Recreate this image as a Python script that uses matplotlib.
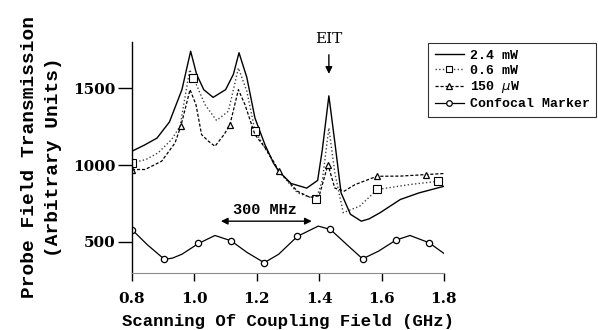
import numpy as np
import matplotlib
matplotlib.use("Agg")
import matplotlib.pyplot as plt
from matplotlib.lines import Line2D

# transmission curves (GHz, arbitrary units)
f_24mw = [0.80, 0.84, 0.88, 0.92, 0.96, 0.988, 1.007, 1.03, 1.06, 1.10, 1.125,
          1.143, 1.168, 1.194, 1.226, 1.253, 1.27, 1.31, 1.36, 1.395, 1.41,
          1.431, 1.45, 1.47, 1.50, 1.535, 1.56, 1.595, 1.66, 1.72, 1.80]
t_24mw = [1090, 1130, 1175, 1280, 1490, 1740, 1590, 1490, 1440, 1490, 1590,
          1730, 1570, 1306, 1133, 1014, 960, 880, 850, 900, 1100,
          1450, 1150, 820, 680, 635, 650, 690, 776, 819, 862]

f_06mw = [0.80, 0.845, 0.884, 0.927, 0.954, 0.985, 0.997, 1.034, 1.071, 1.109,
          1.141, 1.168, 1.194, 1.226, 1.27, 1.33, 1.39, 1.41, 1.431, 1.45,
          1.477, 1.53, 1.586, 1.69, 1.782, 1.80]
t_06mw = [1014, 1036, 1080, 1166, 1252, 1620, 1566, 1393, 1290, 1350,
          1631, 1480, 1224, 1112, 960, 820, 776, 900, 1241, 950,
          690, 733, 841, 873, 895, 906]
sq_at = [0.80, 0.997, 1.194, 1.39, 1.586, 1.782]

f_150uw = [0.80, 0.842, 0.895, 0.938, 0.957, 0.986, 1.005, 1.023, 1.045, 1.066,
           1.095, 1.114, 1.141, 1.162, 1.194, 1.226, 1.253, 1.271, 1.33, 1.37,
           1.40, 1.428, 1.45, 1.48, 1.515, 1.585, 1.66, 1.742, 1.80]
t_150uw = [971, 971, 1025, 1144, 1257, 1490, 1393, 1198, 1155, 1122,
           1198, 1263, 1490, 1393, 1198, 1114, 1025, 960, 830, 790,
           800, 1003, 850, 830, 873, 927, 928, 938, 945]
tri_at = [0.80, 0.957, 1.114, 1.271, 1.428, 1.585, 1.742]

f_conf = [0.80, 0.85, 0.904, 0.93, 0.96, 1.013, 1.066, 1.117, 1.17, 1.224,
          1.27, 1.33, 1.397, 1.436, 1.49, 1.539, 1.59, 1.646, 1.691, 1.752, 1.80]
t_conf = [580, 480, 387, 395, 420, 490, 542, 508, 430, 365,
          420, 536, 603, 581, 480, 390, 440, 512, 542, 495, 425]
circ_at = [0.80, 0.904, 1.013, 1.117, 1.224, 1.33, 1.436, 1.539, 1.646, 1.752]

labels = ["2.4 mW", "0.6 mW", r"150 $\mu$W", "Confocal Marker"]
yticks = [500, 1000, 1500]
xticks = [0.8, 1.0, 1.2, 1.4, 1.6, 1.8]

mono = "Liberation Mono"
serif = "DejaVu Serif"


def marks(xs, at):
    # indices of the points that carry a marker
    return [xs.index(v) for v in at]


fig = plt.figure(figsize=(5.98, 3.30), dpi=100)
ax = fig.add_axes([132 / 598, 57.3 / 330, 312 / 598, 230.7 / 330])

ax.plot(f_24mw, t_24mw, "-", color="black", lw=1.0)
ax.plot(f_06mw, t_06mw, ":", color="0.25", lw=1.0, marker="s", ms=6,
        mfc="white", mec="black", mew=0.8, markevery=marks(f_06mw, sq_at))
ax.plot(f_150uw, t_150uw, "--", dashes=(2.5, 1.5), color="black", lw=0.9,
        marker="^", ms=5, mfc="white", mec="black", mew=0.9,
        markevery=marks(f_150uw, tri_at))
ax.plot(f_conf, t_conf, "-", color="black", lw=0.9, marker="o", ms=4.5,
        mfc="white", mec="black", mew=0.9, markevery=marks(f_conf, circ_at))

ax.set_xlim(0.8, 1.8)
ax.set_ylim(300, 1800)
ax.set_xticks(xticks)
ax.set_xticklabels(["%.1f" % v for v in xticks])
ax.set_yticks(yticks)
ax.set_yticklabels([str(v) for v in yticks])

for s in ["top", "right"]:
    ax.spines[s].set_visible(False)
ax.spines["left"].set_linewidth(1.0)
ax.spines["bottom"].set_color("0.55")
ax.spines["bottom"].set_linewidth(0.8)
ax.tick_params(axis="y", length=10, width=1.0, pad=2)
ax.tick_params(axis="x", length=6, width=1.0, pad=8)
for lab in ax.get_xticklabels() + ax.get_yticklabels():
    lab.set_fontfamily(serif)
    lab.set_fontweight("bold")
    lab.set_fontsize(11)

ax.set_xlabel("Scanning Of Coupling Field (GHz)", fontfamily=mono,
              fontweight="bold", fontsize=12.5, labelpad=6)
ax.set_ylabel("Probe Field Transmission\n(Arbitrary Units)", fontfamily=mono,
              fontweight="bold", fontsize=14, labelpad=8, linespacing=1.55)

# annotations
ax.annotate("", xy=(1.431, 1575), xytext=(1.431, 1735),
            arrowprops=dict(arrowstyle="-|>", color="black", lw=1.0,
                            mutation_scale=10), annotation_clip=False)
ax.text(1.431, 1822, "EIT", ha="center", va="center", fontfamily=serif,
        fontsize=11, clip_on=False)
ax.annotate("", xy=(1.076, 635), xytext=(1.385, 635),
            arrowprops=dict(arrowstyle="<|-|>", color="black", lw=1.0,
                            mutation_scale=10))
ax.text(1.226, 705, "300 MHz", ha="center", va="center", fontfamily=mono,
        fontweight="bold", fontsize=11)

handles = [
    Line2D([], [], ls="-", color="black", lw=1.0),
    Line2D([], [], ls=":", color="0.25", lw=1.0, marker="s", ms=5,
           mfc="white", mec="black", mew=0.8),
    Line2D([], [], ls="--", dashes=(2.5, 1.5), color="black", lw=0.9,
           marker="^", ms=4.5, mfc="white", mec="black", mew=0.9),
    Line2D([], [], ls="-", color="black", lw=0.9, marker="o", ms=4,
           mfc="white", mec="black", mew=0.9),
]
leg = fig.legend(handles, labels, loc="upper left",
                 bbox_to_anchor=(428 / 598, 1 - 43 / 330),
                 prop={"family": mono, "weight": "bold", "size": 9.5},
                 frameon=True, fancybox=False, edgecolor="black",
                 handlelength=2.2, handletextpad=0.45, labelspacing=0.2,
                 borderpad=0.5, borderaxespad=0)
leg.get_frame().set_linewidth(0.8)

fig.savefig("out.png", dpi=100)
